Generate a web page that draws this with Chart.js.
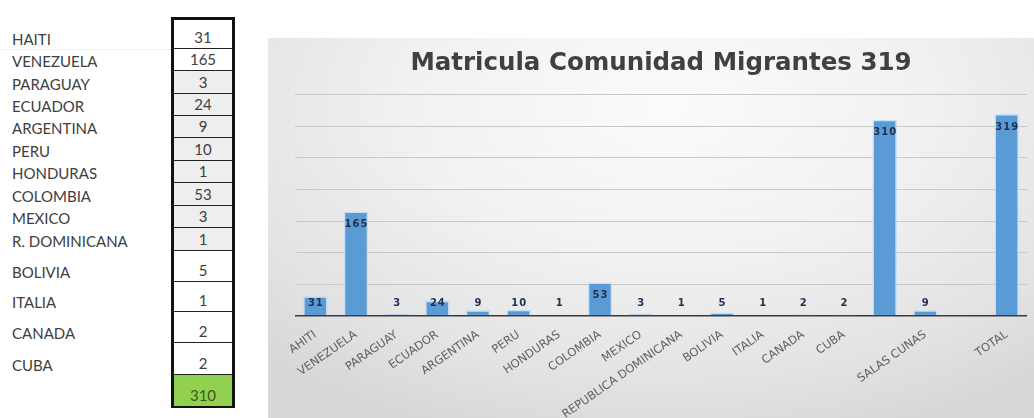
<!DOCTYPE html>
<html>
<head>
<meta charset="utf-8">
<script src="https://cdn.jsdelivr.net/npm/chart.js@4/dist/chart.umd.min.js"></script>
<style>
  html, body { margin: 0; padding: 0; background: #ffffff; }
  body { width: 1034px; height: 418px; position: relative; overflow: hidden; }
  #sheet { position: absolute; left: 0; top: 0; width: 260px; height: 418px; font-family: Lato, "Open Sans", sans-serif; color: #404040; }
  .name { position: absolute; left: 12px; font-size: 15px; line-height: 17px; white-space: nowrap; }
  .cell { position: absolute; left: 171px; width: 64px; box-sizing: border-box;
          border-left: 3px solid #111; border-right: 3px solid #111; border-bottom: 1px solid #222;
          display: flex; align-items: flex-end; justify-content: center;
          font-size: 15px; line-height: 17px; padding-bottom: 2px; }
  .cell.first { border-top: 3px solid #111; }
  .cell.shade { background: #eeeeee; }
  .cell.total { background: #92d050; color: #3b5a1f; border-bottom: 2px solid #111; }
  .rowline { position: absolute; left: 0; width: 171px; height: 1px; background: #efefef; }
  #card { position: absolute; left: 268px; top: 38px; width: 766px; height: 380px;
          background: radial-gradient(ellipse 75% 90% at 52% 18%, #fbfbfb 0%, #f1f1f1 45%, #e3e3e3 80%, #d8d8d8 100%); }
  #chart { position: absolute; left: 0; top: 0; }
</style>
</head>
<body>
<div id="sheet"></div>
<div id="card"><canvas id="chart" width="766" height="380"></canvas></div>
<script>
// Enrolment by country (worksheet column)
const countryNames = ['HAITI', 'VENEZUELA', 'PARAGUAY', 'ECUADOR', 'ARGENTINA', 'PERU', 'HONDURAS',
                      'COLOMBIA', 'MEXICO', 'R. DOMINICANA', 'BOLIVIA', 'ITALIA', 'CANADA', 'CUBA'];
const countryCounts = [31, 165, 3, 24, 9, 10, 1, 53, 3, 1, 5, 1, 2, 2];
const countryTotal = 310;

// Chart series
const chartCategories = ['AHITI', 'VENEZUELA', 'PARAGUAY', 'ECUADOR', 'ARGENTINA', 'PERU', 'HONDURAS',
                         'COLOMBIA', 'MEXICO', 'REPUBLICA DOMINICANA', 'BOLIVIA', 'ITALIA', 'CANADA', 'CUBA',
                         '', 'SALAS CUNAS', '', 'TOTAL'];
const chartValues = [31, 165, 3, 24, 9, 10, 1, 53, 3, 1, 5, 1, 2, 2, 310, 9, null, 319];
const chartTitle = 'Matricula Comunidad Migrantes 319';
const yMax = 350;
const yStep = 50;

// ---- worksheet column ----
const rowEdges = [17, 49, 71, 94, 116, 138, 161, 183, 206, 228, 251, 282, 312, 343, 375, 408];
const sheet = document.getElementById('sheet');
const cellValues = countryCounts.concat([countryTotal]);
cellValues.forEach((v, i) => {
  const top = rowEdges[i], bottom = rowEdges[i + 1];
  const cell = document.createElement('div');
  cell.className = 'cell';
  if (i === 0) cell.classList.add('first');
  if (i >= 2 && i <= 9) cell.classList.add('shade');
  if (i === cellValues.length - 1) cell.classList.add('total');
  cell.style.top = top + 'px';
  cell.style.height = (bottom - top) + 'px';
  cell.textContent = v;
  sheet.appendChild(cell);
  if (i < countryNames.length) {
    const name = document.createElement('div');
    name.className = 'name';
    name.style.top = (bottom - 18) + 'px';
    name.textContent = countryNames[i];
    sheet.appendChild(name);
  }
});
const line = document.createElement('div');
line.className = 'rowline';
line.style.top = rowEdges[1] + 'px';
sheet.appendChild(line);

// ---- value labels drawn inside the top of each bar ----
const valueLabels = {
  id: 'valueLabels',
  afterDatasetsDraw(chart) {
    const ctx = chart.ctx;
    const meta = chart.getDatasetMeta(0);
    const base = chart.scales.y.getPixelForValue(0);
    const values = chart.data.datasets[0].data;
    ctx.save();
    ctx.font = 'bold 10px "DejaVu Sans"';
    if ('letterSpacing' in ctx) ctx.letterSpacing = '1px';
    ctx.fillStyle = '#1f3050';
    ctx.textAlign = 'center';
    ctx.textBaseline = 'middle';
    meta.data.forEach((bar, i) => {
      const v = values[i];
      if (v === null || v === undefined) return;
      const y = Math.min(bar.y + 13, base - 13);
      ctx.fillText(String(v), bar.x + 0.5, y);
    });
    ctx.restore();
  }
};

new Chart(document.getElementById('chart'), {
  type: 'bar',
  data: {
    labels: chartCategories,
    datasets: [{
      data: chartValues,
      backgroundColor: '#5b9bd5',
      borderColor: 'rgba(196,220,242,0.95)',
      borderWidth: { left: 1.5, right: 1.5, top: 1.5, bottom: 0 },
      borderSkipped: 'bottom',
      barPercentage: 0.6,
      categoryPercentage: 1
    }]
  },
  options: {
    responsive: false,
    animation: false,
    devicePixelRatio: 1,
    layout: { padding: { left: 27, right: 7, top: 0, bottom: 0 } },
    plugins: {
      legend: { display: false },
      tooltip: { enabled: false },
      title: {
        display: true,
        text: chartTitle,
        color: '#404040',
        font: { family: '"DejaVu Sans"', size: 24.5, weight: 'bold' },
        padding: { top: 11, bottom: 16 }
      }
    },
    scales: {
      x: {
        grid: { display: false },
        border: { display: false },
        ticks: {
          color: '#606060',
          font: { family: '"DejaVu Sans"', size: 11.5 },
          minRotation: 35,
          maxRotation: 35,
          autoSkip: false,
          padding: 4
        },
        afterFit(scale) { scale.height = 102; }
      },
      y: {
        min: 0,
        max: yMax,
        ticks: { stepSize: yStep, display: false },
        border: { display: false },
        grid: {
          drawTicks: false,
          color: c => (c.tick && c.tick.value === 0) ? '#3a3a3a' : '#c8c8c8',
          lineWidth: c => (c.tick && c.tick.value === 0) ? 1.5 : 1
        },
        afterFit(scale) { scale.width = 0; }
      }
    }
  },
  plugins: [valueLabels]
});
</script>
</body>
</html>
